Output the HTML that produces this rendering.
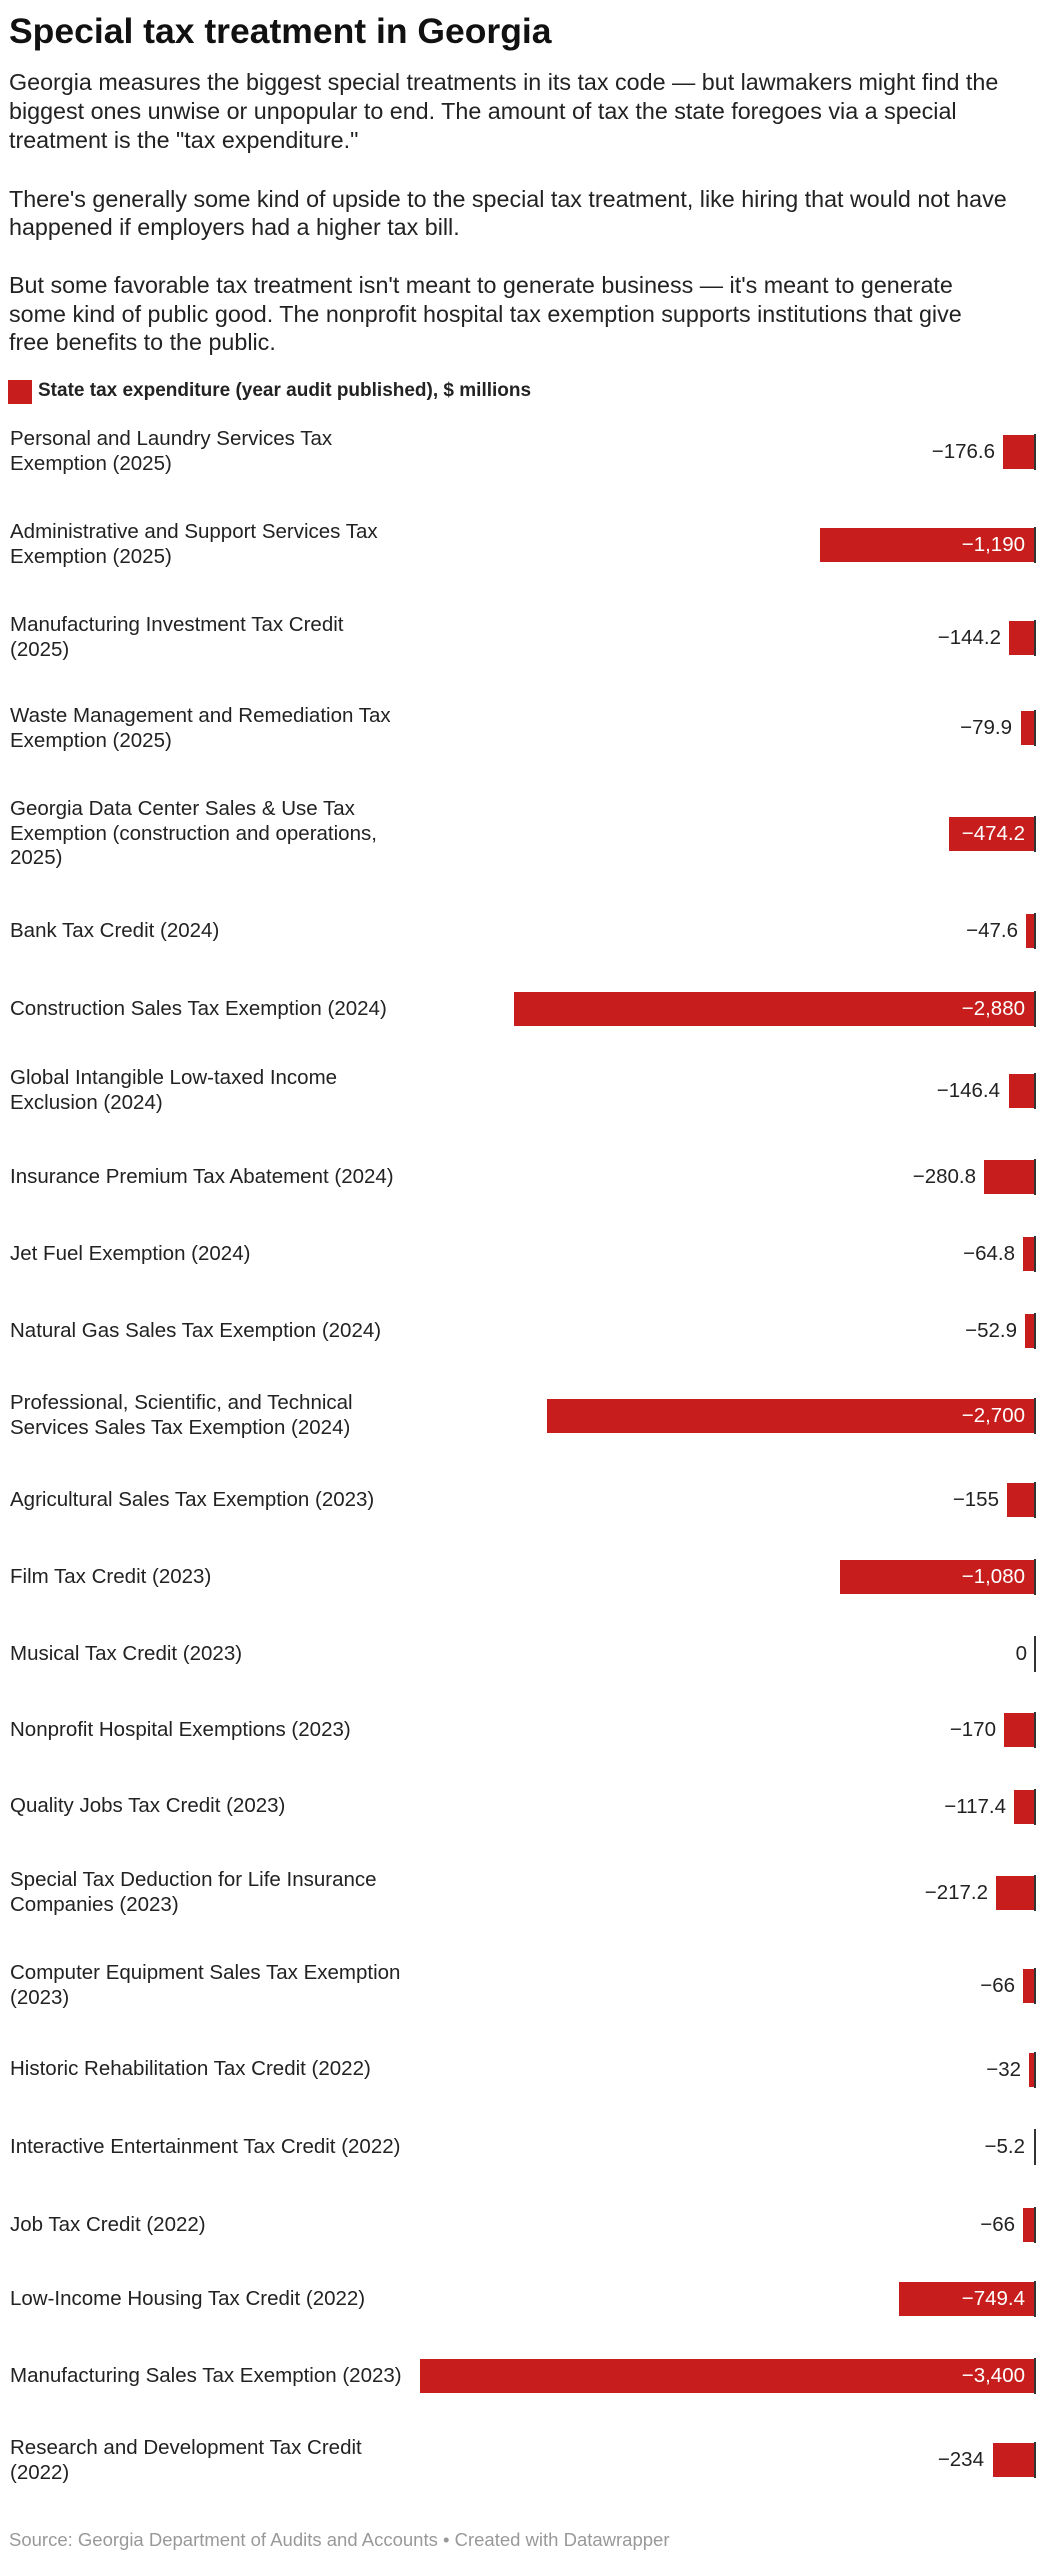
<!DOCTYPE html>
<html><head><meta charset="utf-8"><style>
body{margin:0;width:1045px;height:2560px;background:#fff;position:relative;font-family:"Liberation Sans",sans-serif;color:#222;overflow:hidden}
.a{position:absolute;white-space:nowrap}
.t{left:9px;top:11px;font-size:35.5px;line-height:40px;font-weight:bold;color:#111}
.p{left:9px;font-size:23.3px;line-height:29.5px;color:#222}
.lab{left:10px;font-size:20.5px;line-height:24.6px;color:#222}
.bar{position:absolute;height:34px;background:#c71e1d;right:10px}
.ax{position:absolute;width:1.5px;height:36px;background:#333;left:1034px}
.v{position:absolute;font-size:20.5px;line-height:34px;height:34px;color:#222;text-align:right}
.vi{color:#fff}
</style></head><body>
<div class="a t">Special tax treatment in Georgia</div>
<div class="a p" style="top:68px">Georgia measures the biggest special treatments in its tax code — but lawmakers might find the</div>
<div class="a p" style="top:97px">biggest ones unwise or unpopular to end. The amount of tax the state foregoes via a special</div>
<div class="a p" style="top:126px">treatment is the "tax expenditure."</div>
<div class="a p" style="top:185px">There's generally some kind of upside to the special tax treatment, like hiring that would not have</div>
<div class="a p" style="top:213px">happened if employers had a higher tax bill.</div>
<div class="a p" style="top:271px">But some favorable tax treatment isn't meant to generate business — it's meant to generate</div>
<div class="a p" style="top:300px">some kind of public good. The nonprofit hospital tax exemption supports institutions that give</div>
<div class="a p" style="top:328px">free benefits to the public.</div>
<div class="a" style="left:8px;top:380px;width:24px;height:24px;background:#c71e1d"></div>
<div class="a" style="left:38px;top:379px;font-size:19px;line-height:24px;font-weight:bold;color:#222">State tax expenditure (year audit published), $ millions</div>

<div class="a lab" style="top:427px">Personal and Laundry Services Tax<br>Exemption (2025)</div>
<div class="bar" style="top:435px;width:32px"></div><div class="ax" style="top:434px"></div>
<div class="v" style="top:435px;right:50px">−176.6</div>

<div class="a lab" style="top:520px">Administrative and Support Services Tax<br>Exemption (2025)</div>
<div class="bar" style="top:528px;width:215px"></div><div class="ax" style="top:527px"></div>
<div class="v vi" style="top:528px;right:20px">−1,190</div>

<div class="a lab" style="top:613px">Manufacturing Investment Tax Credit<br>(2025)</div>
<div class="bar" style="top:621px;width:26px"></div><div class="ax" style="top:620px"></div>
<div class="v" style="top:621px;right:44px">−144.2</div>

<div class="a lab" style="top:704px">Waste Management and Remediation Tax<br>Exemption (2025)</div>
<div class="bar" style="top:711px;width:14.5px"></div><div class="ax" style="top:710px"></div>
<div class="v" style="top:711px;right:33px">−79.9</div>

<div class="a lab" style="top:797px">Georgia Data Center Sales &amp; Use Tax<br>Exemption (construction and operations,<br>2025)</div>
<div class="bar" style="top:817px;width:86px"></div><div class="ax" style="top:816px"></div>
<div class="v vi" style="top:817px;right:20px">−474.2</div>

<div class="a lab" style="top:919px">Bank Tax Credit (2024)</div>
<div class="bar" style="top:914px;width:8.6px"></div><div class="ax" style="top:913px"></div>
<div class="v" style="top:914px;right:27px">−47.6</div>

<div class="a lab" style="top:997px">Construction Sales Tax Exemption (2024)</div>
<div class="bar" style="top:992px;width:521px"></div><div class="ax" style="top:991px"></div>
<div class="v vi" style="top:992px;right:20px">−2,880</div>

<div class="a lab" style="top:1066px">Global Intangible Low-taxed Income<br>Exclusion (2024)</div>
<div class="bar" style="top:1074px;width:26.5px"></div><div class="ax" style="top:1073px"></div>
<div class="v" style="top:1074px;right:45px">−146.4</div>

<div class="a lab" style="top:1165px">Insurance Premium Tax Abatement (2024)</div>
<div class="bar" style="top:1160px;width:51px"></div><div class="ax" style="top:1159px"></div>
<div class="v" style="top:1160px;right:69px">−280.8</div>

<div class="a lab" style="top:1242px">Jet Fuel Exemption (2024)</div>
<div class="bar" style="top:1237px;width:11.7px"></div><div class="ax" style="top:1236px"></div>
<div class="v" style="top:1237px;right:30px">−64.8</div>

<div class="a lab" style="top:1319px">Natural Gas Sales Tax Exemption (2024)</div>
<div class="bar" style="top:1314px;width:9.6px"></div><div class="ax" style="top:1313px"></div>
<div class="v" style="top:1314px;right:28px">−52.9</div>

<div class="a lab" style="top:1391px">Professional, Scientific, and Technical<br>Services Sales Tax Exemption (2024)</div>
<div class="bar" style="top:1399px;width:488px"></div><div class="ax" style="top:1398px"></div>
<div class="v vi" style="top:1399px;right:20px">−2,700</div>

<div class="a lab" style="top:1488px">Agricultural Sales Tax Exemption (2023)</div>
<div class="bar" style="top:1483px;width:28px"></div><div class="ax" style="top:1482px"></div>
<div class="v" style="top:1483px;right:46px">−155</div>

<div class="a lab" style="top:1565px">Film Tax Credit (2023)</div>
<div class="bar" style="top:1560px;width:195px"></div><div class="ax" style="top:1559px"></div>
<div class="v vi" style="top:1560px;right:20px">−1,080</div>

<div class="a lab" style="top:1642px">Musical Tax Credit (2023)</div>
<div class="ax" style="top:1636px"></div>
<div class="v" style="top:1637px;right:18px">0</div>

<div class="a lab" style="top:1718px">Nonprofit Hospital Exemptions (2023)</div>
<div class="bar" style="top:1713px;width:30.8px"></div><div class="ax" style="top:1712px"></div>
<div class="v" style="top:1713px;right:49px">−170</div>

<div class="a lab" style="top:1794px">Quality Jobs Tax Credit (2023)</div>
<div class="bar" style="top:1790px;width:21.2px"></div><div class="ax" style="top:1789px"></div>
<div class="v" style="top:1790px;right:39px">−117.4</div>

<div class="a lab" style="top:1868px">Special Tax Deduction for Life Insurance<br>Companies (2023)</div>
<div class="bar" style="top:1876px;width:39.3px"></div><div class="ax" style="top:1875px"></div>
<div class="v" style="top:1876px;right:57px">−217.2</div>

<div class="a lab" style="top:1961px">Computer Equipment Sales Tax Exemption<br>(2023)</div>
<div class="bar" style="top:1969px;width:12px"></div><div class="ax" style="top:1968px"></div>
<div class="v" style="top:1969px;right:30px">−66</div>

<div class="a lab" style="top:2057px">Historic Rehabilitation Tax Credit (2022)</div>
<div class="bar" style="top:2053px;width:5.8px"></div><div class="ax" style="top:2052px"></div>
<div class="v" style="top:2053px;right:24px">−32</div>

<div class="a lab" style="top:2135px">Interactive Entertainment Tax Credit (2022)</div>
<div class="bar" style="top:2130px;width:1px"></div><div class="ax" style="top:2129px"></div>
<div class="v" style="top:2130px;right:20px">−5.2</div>

<div class="a lab" style="top:2213px">Job Tax Credit (2022)</div>
<div class="bar" style="top:2208px;width:12px"></div><div class="ax" style="top:2207px"></div>
<div class="v" style="top:2208px;right:30px">−66</div>

<div class="a lab" style="top:2287px">Low-Income Housing Tax Credit (2022)</div>
<div class="bar" style="top:2282px;width:135.6px"></div><div class="ax" style="top:2281px"></div>
<div class="v vi" style="top:2282px;right:20px">−749.4</div>

<div class="a lab" style="top:2364px">Manufacturing Sales Tax Exemption (2023)</div>
<div class="bar" style="top:2359px;width:615px"></div><div class="ax" style="top:2358px"></div>
<div class="v vi" style="top:2359px;right:20px">−3,400</div>

<div class="a lab" style="top:2436px">Research and Development Tax Credit<br>(2022)</div>
<div class="bar" style="top:2443px;width:42.3px"></div><div class="ax" style="top:2442px"></div>
<div class="v" style="top:2443px;right:61px">−234</div>

<div class="a" style="left:9px;top:2529px;font-size:18.5px;line-height:22px;color:#999">Source: Georgia Department of Audits and Accounts • Created with Datawrapper</div>
</body></html>
